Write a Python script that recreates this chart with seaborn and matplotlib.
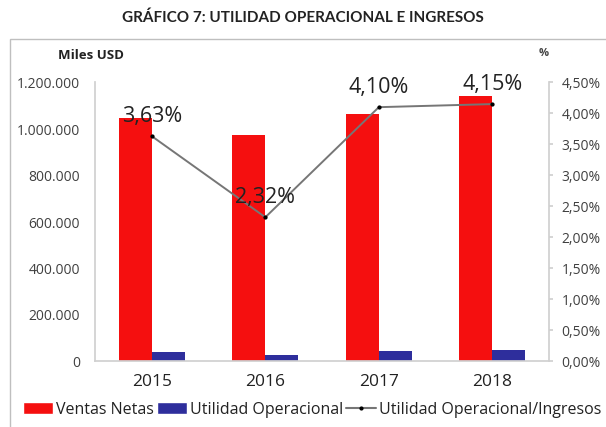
import pandas as pd
import matplotlib.pyplot as plt
import seaborn as sns
from matplotlib.patches import Patch, Rectangle
from matplotlib.lines import Line2D
from matplotlib.ticker import FuncFormatter

# --- DATA ---
years = ['2015', '2016', '2017', '2018']
ventas_netas = [1048000, 974000, 1065000, 1143000]
utilidad_operacional = [38000, 22600, 43700, 47400]
margen_pct = [3.63, 2.32, 4.10, 4.15]

RED = '#F50F0F'
BLUE = '#2E2E9C'
GRAY = '#767676'


def fmt_miles(v, pos):
    return f"{int(round(v)):,}".replace(',', '.')


def fmt_pct(v, pos):
    return f"{v:.2f}%".replace('.', ',')


df = pd.DataFrame({
    'year': years * 2,
    'valor': ventas_netas + utilidad_operacional,
    'serie': ['Ventas Netas'] * 4 + ['Utilidad Operacional'] * 4,
})

sns.set_theme(style="white")
plt.rcParams['font.family'] = ['Open Sans', 'DejaVu Sans']

fig = plt.figure(figsize=(6.06, 4.275), dpi=100)
ax = fig.add_axes([0.157, 0.155, 0.749, 0.651])

sns.barplot(data=df, x='year', y='valor', hue='serie',
            palette=[RED, BLUE], width=0.58, saturation=1,
            linewidth=0, ax=ax, legend=False)
ax.set_ylim(0, 1200000)
ax.set_yticks(range(0, 1200001, 200000))
ax.yaxis.set_major_formatter(FuncFormatter(fmt_miles))
ax.set_xlabel('')
ax.set_ylabel('')
ax.tick_params(axis='y', labelsize=10, colors='#404040', length=0, pad=11)
ax.tick_params(axis='x', labelsize=12.5, colors='#222222', length=0, pad=9)
for side in ['top', 'right']:
    ax.spines[side].set_visible(False)
ax.spines['left'].set_color('#D0D0D0')
ax.spines['bottom'].set_color('#D0D0D0')

# secondary axis: margin
ax2 = ax.twinx()
sns.pointplot(x=years, y=margen_pct, ax=ax2, color=GRAY, markers='o',
              markersize=2, linewidth=1.4)
for coll in ax2.collections:
    coll.set_facecolor('black')
    coll.set_edgecolor('black')
for line in ax2.lines:
    line.set_markerfacecolor('black')
    line.set_markeredgecolor('black')
ax2.set_ylim(0, 4.5)
ax2.set_yticks([i * 0.5 for i in range(10)])
ax2.yaxis.set_major_formatter(FuncFormatter(fmt_pct))
ax2.tick_params(axis='y', labelsize=10, colors='#404040', length=3,
                color='#D0D0D0', pad=6)
for side in ['top', 'left', 'bottom']:
    ax2.spines[side].set_visible(False)
ax2.spines['right'].set_color('#D0D0D0')
ax2.set_xlabel('')

for i, v in enumerate(margen_pct):
    ax2.annotate(fmt_pct(v, None), (i, v), xytext=(0, 7),
                 textcoords='offset points', ha='center', va='bottom',
                 fontsize=15.5, color='#222222')

# axis captions and title
fig.text(0.095, 0.871, 'Miles USD', fontsize=9.5, fontweight='bold',
         color='#222222', va='center')
fig.text(0.888, 0.876, '%', fontsize=8, fontweight='bold',
         color='#444444', va='center')
fig.text(0.5, 0.958, 'GRÁFICO 7: UTILIDAD OPERACIONAL E INGRESOS',
         ha='center', va='center', fontsize=11, fontweight='bold',
         family=['Lato', 'DejaVu Sans'], color='#222222')

# chart frame
fig.patches.append(Rectangle((0.017, -0.01), 0.99, 0.918,
                             transform=fig.transFigure, fill=False,
                             edgecolor='#BFBFBF', linewidth=1))

handles = [
    Patch(facecolor=RED, label='Ventas Netas'),
    Patch(facecolor=BLUE, label='Utilidad Operacional'),
    Line2D([0], [0], color=GRAY, marker='o', markersize=2,
           markerfacecolor='black', markeredgecolor='black',
           label='Utilidad Operacional/Ingresos'),
]
fig.legend(handles=handles, loc='center', bbox_to_anchor=(0.515, 0.04),
           ncol=3, frameon=False, fontsize=11.5, handlelength=1.9,
           handleheight=0.75, handletextpad=0.15, columnspacing=0.2,
           borderpad=0, labelcolor='#222222')

fig.savefig('out.png', dpi=100)
